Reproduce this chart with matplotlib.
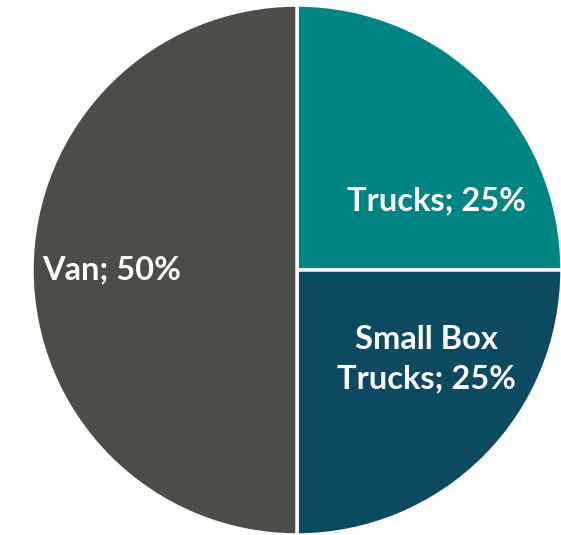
import matplotlib.pyplot as plt

labels = ["Trucks", "Small Box\nTrucks", "Van"]
shares = [25, 25, 50]
colors = ["#008484", "#0B4A60", "#4D4D48"]

# label anchor offsets from pie centre, in radius units
label_pos = [(0.525, 0.26), (0.487, -0.335), (-0.70, 0.0)]

W, H = 561, 535
cx, cy, r = 297, 265, 265

fig = plt.figure(figsize=(W / 100, H / 100), dpi=100)
ax = fig.add_axes([0, 0, 1, 1])
ax.pie(
    shares,
    colors=colors,
    startangle=90,
    counterclock=False,
    radius=r,
    center=(cx, cy),
    wedgeprops=dict(edgecolor="white", linewidth=2.5),
    frame=True,
)
ax.set_xlim(0, W)
ax.set_ylim(0, H)
ax.set_aspect("equal")
ax.axis("off")

for lab, val, (dx, dy) in zip(labels, shares, label_pos):
    ax.text(
        cx + dx * r,
        cy + dy * r,
        f"{lab}; {val}%",
        ha="center",
        va="center",
        color="white",
        fontsize=23.5,
        fontweight="bold",
        family="Lato",
        linespacing=1.42,
    )

fig.savefig("out.png", dpi=100)
